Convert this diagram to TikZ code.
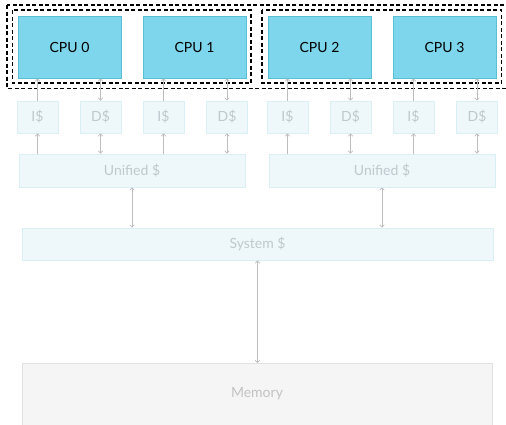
\documentclass[tikz,border=0pt]{standalone}
\usepackage{fontspec}
\setmainfont{Lato}
\usetikzlibrary{arrows.meta}
\definecolor{cpufill}{HTML}{7DD6EB}
\definecolor{cpuline}{HTML}{5BBFD3}
\definecolor{cfill}{HTML}{EEF8FB}
\definecolor{cline}{HTML}{DAF0F5}
\definecolor{ctext}{HTML}{BFC9CD}
\definecolor{mfill}{HTML}{F5F5F5}
\definecolor{mline}{HTML}{E2E2E2}
\definecolor{mtext}{HTML}{C2C2C2}
\definecolor{arr}{HTML}{BDBDBD}
\tikzset{
  cpu/.style={draw=cpuline, fill=cpufill, line width=1pt, text=black, font=\fontsize{14}{16}\selectfont, inner sep=0pt},
  cache/.style={draw=cline, fill=cfill, line width=1pt, text=ctext, font=\fontsize{14}{16}\selectfont, inner sep=0pt},
  mem/.style={draw=mline, fill=mfill, line width=1pt, text=mtext, font=\fontsize{14}{16}\selectfont, inner sep=0pt},
  grp/.style={draw=black, line width=1.1pt, dash pattern=on 4pt off 2.5pt},
  conn/.style={draw=arr, line width=0.7pt, -{To[length=3pt,width=5pt]}},
  bconn/.style={draw=arr, line width=0.7pt, {To[length=3pt,width=5pt]}-{To[length=3pt,width=5pt]}},
}
\begin{document}
\begin{tikzpicture}[x=1pt,y=-1pt]
\clip (0,0) rectangle (506,424);
\useasboundingbox (0,0) rectangle (506,424);
% group boxes
\draw[grp] (7,5) rectangle (510,88.5);
\draw[grp] (12.5,10) rectangle (251,83);
\draw[grp] (262,10) rectangle (501.5,83);
% CPUs
\node[cpu, minimum width=103pt, minimum height=62pt] (cpu0) at (69.5,47) {CPU 0};
\node[cpu, minimum width=103pt, minimum height=62pt] (cpu1) at (194.5,47) {CPU 1};
\node[cpu, minimum width=103pt, minimum height=62pt] (cpu2) at (319.5,47) {CPU 2};
\node[cpu, minimum width=103pt, minimum height=62pt] (cpu3) at (444.5,47) {CPU 3};
% L1 caches
\foreach \n/\x/\t in {i0/37.5/I\$, d0/100.5/D\$, i1/163.5/I\$, d1/227/D\$, i2/287.5/I\$, d2/350.5/D\$, i3/413.5/I\$, d3/477/D\$}{
  \node[cache, minimum width=41pt, minimum height=32pt] (\n) at (\x,117) {\t};
}
% unified
\node[cache, minimum width=226pt, minimum height=33pt] (u0) at (132,170.5) {Unified \$};
\node[cache, minimum width=226pt, minimum height=33pt] (u1) at (382,170.5) {Unified \$};
% system
\node[cache, minimum width=471pt, minimum height=32pt] (sys) at (257.5,244) {System \$};
% memory
\node[mem, minimum width=470pt, minimum height=80pt, text height=9pt] (mem) at (257,403.5) {};
\node[text=mtext, font=\fontsize{14}{16}\selectfont, inner sep=0pt] (memlbl) at (257,393.5) {Memory};
% connectors
\foreach \k in {0,1,2,3}{
  \draw[conn] (i\k.north) -- (i\k.north |- cpu\k.south);
  \draw[bconn] (d\k.north) -- (d\k.north |- cpu\k.south);
}
\foreach \k/\u in {0/0,1/0,2/1,3/1}{
  \draw[conn] (i\k.south |- u\u.north) -- (i\k.south);
  \draw[bconn] (d\k.south |- u\u.north) -- (d\k.south);
}
\draw[bconn] (u0.south) -- (u0.south |- sys.north);
\draw[bconn] (u1.south) -- (u1.south |- sys.north);
\draw[bconn] (sys.south) -- (sys.south |- mem.north);
\end{tikzpicture}
\end{document}
